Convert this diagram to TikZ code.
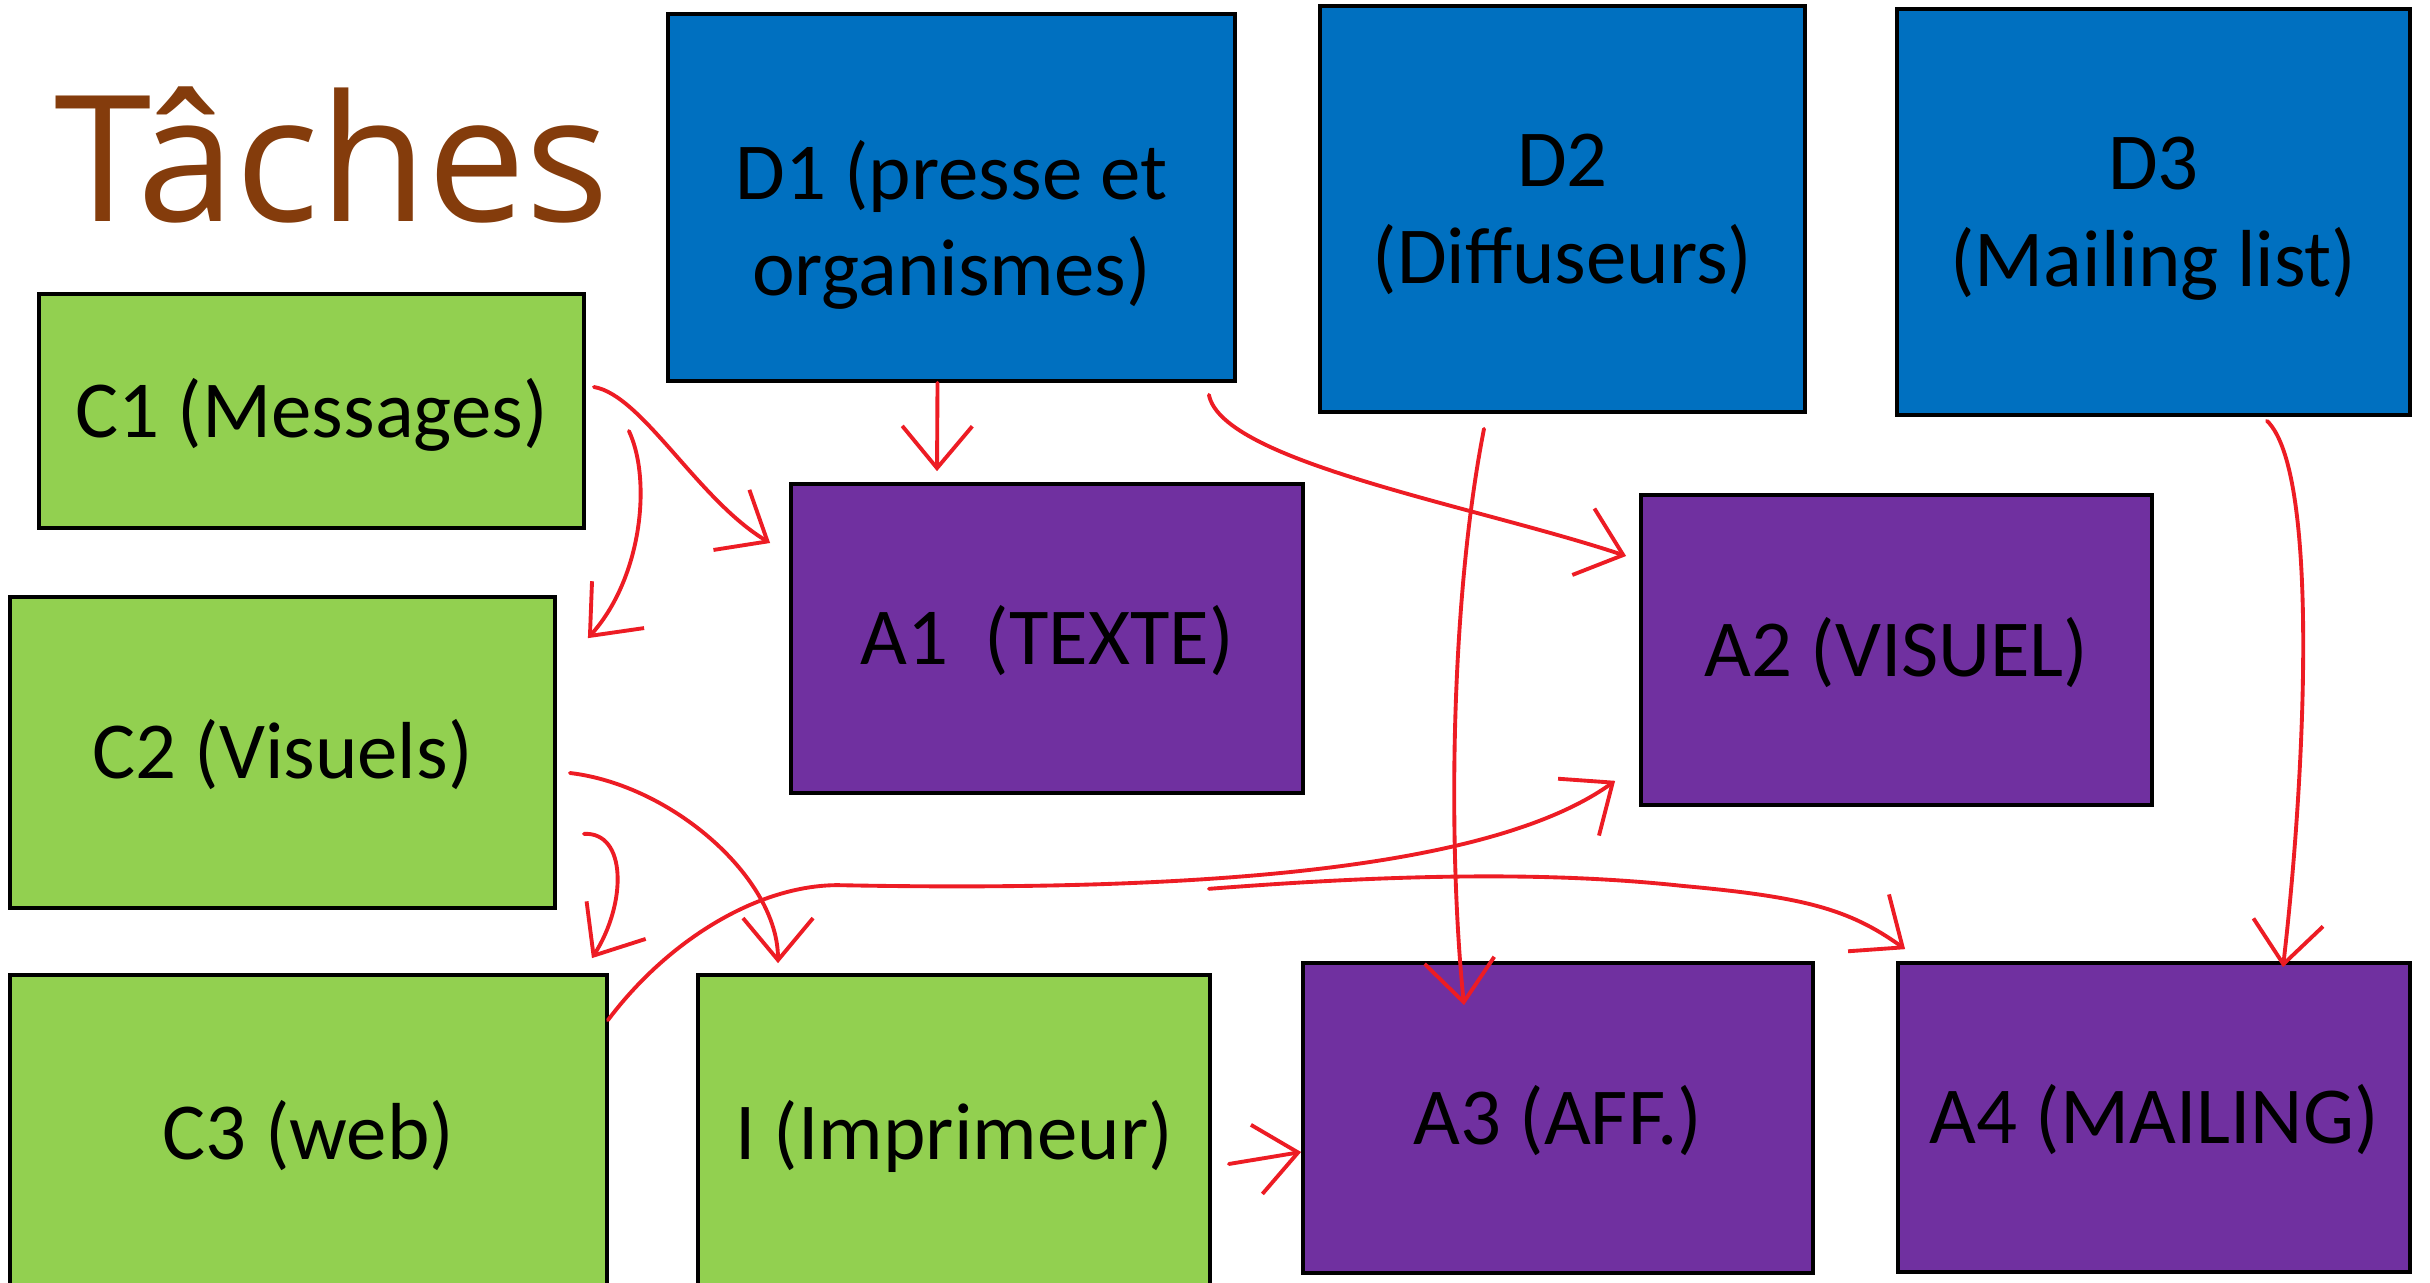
\documentclass[tikz,border=0pt]{standalone}
\usepackage{fontspec}
\setmainfont{Carlito}
\newfontfamily\titlefont{Open Sans}
\usepackage{tikz}
\usetikzlibrary{arrows.meta,positioning}
\definecolor{tcgreen}{RGB}{146,208,80}
\definecolor{tcblue}{RGB}{0,112,192}
\definecolor{tcpurple}{RGB}{112,48,160}
\definecolor{tcred}{RGB}{237,28,36}
\definecolor{tcbrown}{RGB}{132,60,12}
\tikzstyle{arrow} = [line width=1.1pt,->,>={Straight Barb[length=4.2mm,width=7mm]},color=tcred,line cap=round]
\tikzstyle{taskbox} = [rectangle, draw=black, line width=1pt, align=center, text depth=2pt, font=\fontsize{23}{27.5}\selectfont]
\tikzstyle{conceptbox} = [taskbox, fill=tcgreen]
\tikzstyle{diffbox} = [taskbox, fill=tcblue]
\tikzstyle{actionbox} = [taskbox, fill=tcpurple]

\begin{document}
\begin{tikzpicture}[x=0.01cm,y=-0.01cm]
\path[use as bounding box, fill=white] (0,0) rectangle (2430,1283);

\node[font=\titlefont\fontsize{50}{60}\selectfont, text=tcbrown, anchor=base west, inner sep=0pt] (titre) at (54,222) {Tâches};

\node[diffbox, text depth=0pt, minimum width=5.67cm, minimum height=3.67cm] (d1) at (951.5,197.5) {\rule{0pt}{1cm}D1 (presse et\\organismes)};
\node[diffbox, text depth=0pt, minimum width=4.85cm, minimum height=4.06cm] (d2) at (1562.5,209) {D2\\(Diffuseurs)};
\node[diffbox, text depth=0pt, minimum width=5.13cm, minimum height=4.06cm] (d3) at (2153.5,212) {D3\\(Mailing list)};

\node[conceptbox, minimum width=5.45cm, minimum height=2.34cm] (c1) at (311.5,411) {C1 (Messages)};
\node[conceptbox, minimum width=5.45cm, minimum height=3.11cm] (c2) at (282.5,752.5) {C2 (Visuels)};
\node[conceptbox, minimum width=5.97cm, minimum height=3.16cm] (c3) at (308.5,1133) {C3 (web)};
\node[conceptbox, minimum width=5.12cm, minimum height=3.16cm] (imp) at (954,1133) {I (Imprimeur)};

\node[actionbox, minimum width=5.12cm, minimum height=3.09cm] (a1) at (1047,638.5) {A1\ \ (TEXTE)};
\node[actionbox, minimum width=5.11cm, minimum height=3.10cm] (a2) at (1896.5,650) {A2 (VISUEL)};
\node[actionbox, minimum width=5.10cm, minimum height=3.10cm] (a3) at (1558,1118) {A3 (AFF.)};
\node[actionbox, minimum width=5.12cm, minimum height=3.09cm] (a4) at (2154,1117.5) {A4 (MAILING)};

\draw[arrow] ([shift={(8,-24)}]c1.east) .. controls +(48,8) and +(-72,-43) .. ([shift={(-19,-95.5)}]a1.west);
\draw[arrow] ([shift={(43,20)}]c1.east) .. controls +(23,49) and +(54,-60) .. ([shift={(31,43)}]c2.north east);
\draw[arrow] ([shift={(-14,0)}]d1.south) -- ([shift={(-110,-11)}]a1.north);
\draw[arrow] ([shift={(-28,12)}]d1.south east) .. controls +(13,67) and +(-150,-50) .. ([shift={(-13,-94)}]a2.west);
\draw[arrow] ([shift={(-78.5,15)}]d2.south) .. controls +(-34,173) and +(-16,-157) .. ([shift={(-94,44)}]a3.north);
\draw[arrow] ([shift={(113.5,4)}]d3.south) .. controls +(53,51) and +(22,-189) .. ([shift={(129,6)}]a4.north);
\draw[arrow] ([shift={(13,20.5)}]c2.east) .. controls +(102,12) and +(0,-85) .. ([shift={(-176,-10)}]imp.north);
\draw[arrow] ([shift={(27,-76)}]c2.south east) .. controls +(43,-2) and +(35,-55) .. ([shift={(-17,-15)}]c3.north east);
\draw[arrow] ([shift={(-1,47)}]c3.north east) .. controls +(60,-80) and +(-80,0) .. ++(230,-135)
  .. controls +(400,8) and +(-114,82) .. ([shift={(-24,-26)}]a2.south west);
\draw[arrow] ([shift={(-96,94)}]a1.south east) .. controls +(193,-15) and +(-130,-14) .. ++(473,-3)
  .. controls +(120,11) and +(-57,-41) .. ([shift={(9,-12)}]a4.north west);
\draw[arrow] ([shift={(17,31)}]imp.east) -- ([shift={(0,34)}]a3.west);
\end{tikzpicture}
\end{document}
